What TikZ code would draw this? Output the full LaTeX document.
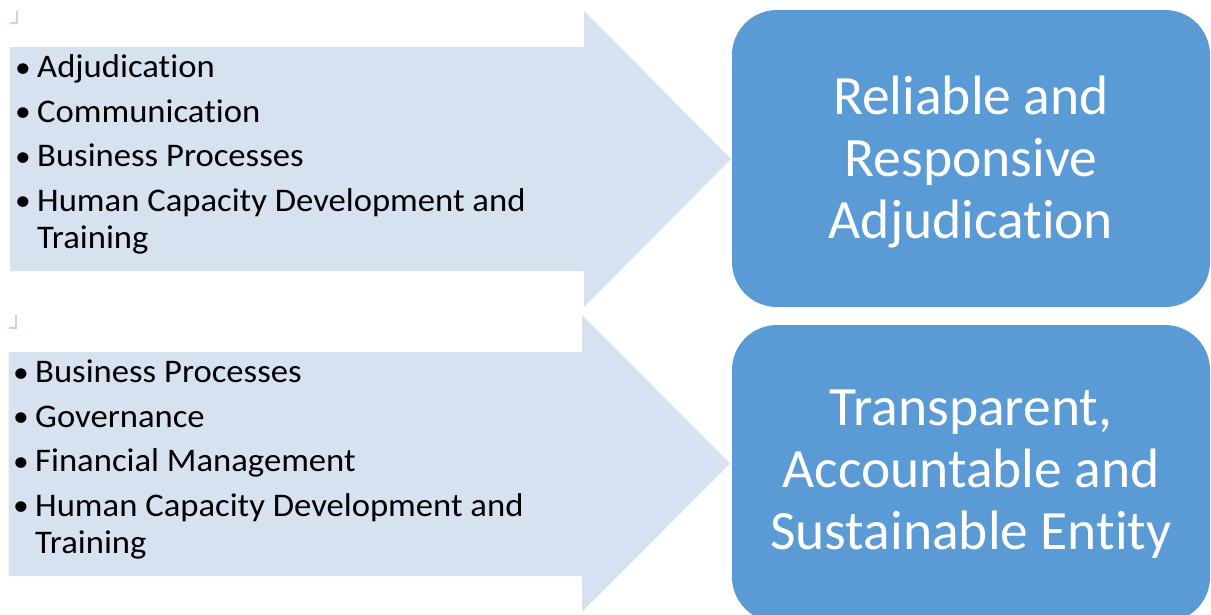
\documentclass[tikz,border=0pt]{standalone}
\usepackage{fontspec}
\setmainfont{Carlito}[RawFeature=-liga]
\newfontfamily\listfont{Carlito}[RawFeature=-liga, FakeStretch=1.05]
\definecolor{shaftblue}{RGB}{214,226,240}
\definecolor{markblue}{RGB}{196,214,236}
\definecolor{boxblue}{RGB}{91,155,213}
\tikzset{
  arrowshape/.style={fill=shaftblue, draw=none},
  outcome/.style={fill=boxblue, draw=none, rounded corners=45pt, minimum width=478pt,
    minimum height=297pt, inner sep=0pt},
  outtext/.style={inner sep=0pt, text=white, align=center,
    font=\fontsize{55.5pt}{62pt}\selectfont},
  listline/.style={anchor=base west, inner sep=0pt, font=\listfont\fontsize{33pt}{37pt}\selectfont, text=black},
  cornermark/.style={draw=markblue, line width=2pt}
}
\newcommand\bul{\makebox[21pt][l]{\hspace*{-1pt}\raisebox{0.5pt}{\fontsize{30pt}{30pt}\selectfont •}}}
\begin{document}
\begin{tikzpicture}[x=1pt,y=-1pt]
\useasboundingbox (0,0) rectangle (1211,614);
\clip (0,0) rectangle (1211,614);
% corner marks
\draw[cornermark] (10,23) -- (17,23) -- (17,11);
\draw[cornermark] (8.5,328) -- (15.5,328) -- (15.5,315);
% arrows
\fill[arrowshape] (10,47) -- (584,47) -- (584,10.7) -- (731,159) -- (584,307) -- (584,271) -- (10,271) -- cycle;
\fill[arrowshape] (8.5,352) -- (582,352) -- (582,315) -- (730,463.5) -- (582,612) -- (582,576) -- (8.5,576) -- cycle;
% outcome boxes
\node[outcome] (box1) at (971,158.5) {};
\node[outcome] (box2) at (971,473.5) {};
\node[outtext] (t1) at ([yshift=-3.5pt]box1.center) {Reliable and\\Responsive\\Adjudication};
\node[outtext] (t2) at ([yshift=-1pt]box2.center) {Transparent,\\Accountable and\\Sustainable Entity};
% list 1
\node[listline] (a1) at (16,77.5) {\bul Adjudication};
\node[listline] (a2) at (16,122) {\bul Communication};
\node[listline] (a3) at (16,166.5) {\bul Business Processes};
\node[listline] (a4) at (16,211) {\bul Human Capacity Development and};
\node[listline] (a5) at (37,248) {Training};
% list 2
\node[listline] (b1) at (14,382.5) {\bul Business Processes};
\node[listline] (b2) at (14,427) {\bul Governance};
\node[listline] (b3) at (14,471.5) {\bul Financial Management};
\node[listline] (b4) at (14,516) {\bul Human Capacity Development and};
\node[listline] (b5) at (35,553) {Training};
\end{tikzpicture}
\end{document}
